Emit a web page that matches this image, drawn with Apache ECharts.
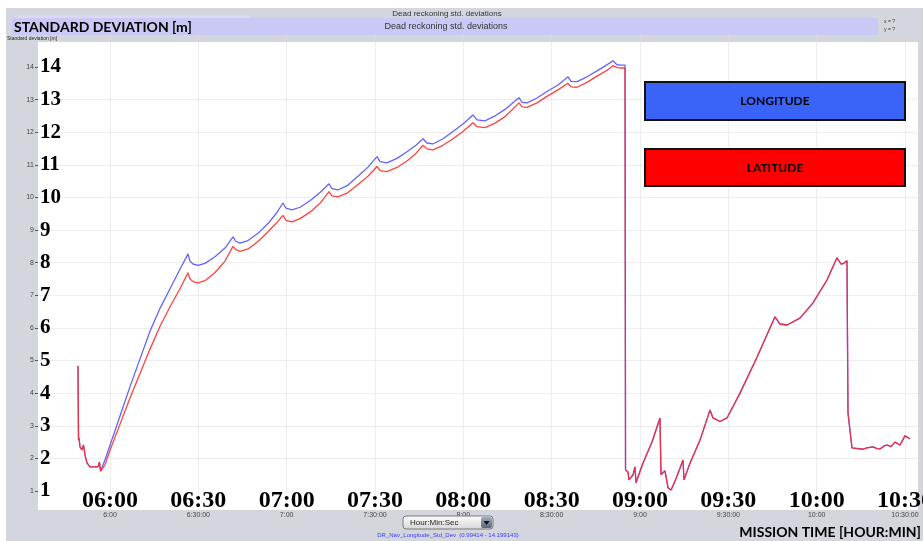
<!DOCTYPE html>
<html>
<head>
<meta charset="utf-8">
<script src="https://cdn.jsdelivr.net/npm/echarts@6/dist/echarts.min.js"></script>
<style>
  html, body { margin: 0; padding: 0; background: #fff; }
  #chart { width: 923px; height: 541px; }
</style>
</head>
<body>
<div id="chart"></div>
<script>
// mission time in minutes since midnight, climb phase (until the reset just before 09:00)
const timeA = [349.13, 349.30, 349.47, 349.81, 350.49, 351.00, 351.51, 352.19, 353.21, 355.92, 356.43, 356.77,
  358.30, 360.00, 363.40, 366.79, 370.19, 373.58, 376.98, 380.38, 383.77, 386.49,
  387.17, 388.19, 389.89, 392.26, 395.66, 399.06, 401.77,
  402.79, 404.15, 406.87, 410.26, 413.66, 416.37, 418.75,
  419.77, 421.81, 424.53, 427.92, 431.32, 434.37,
  435.39, 437.43, 440.83, 444.22, 447.62, 450.68,
  451.70, 454.07, 457.47, 460.87, 463.92, 466.30,
  467.66, 469.69, 473.09, 476.49, 479.88, 483.28,
  484.64, 487.36, 490.75, 494.15, 496.53, 498.91,
  499.93, 501.63, 505.02, 508.42, 512.16, 515.55,
  516.57, 518.61, 522.01, 525.41, 528.46, 530.84,
  532.20, 533.56, 534.92];
const lonA = [4.83, 2.56, 2.63, 2.35, 2.26, 2.41, 2.10, 1.86, 1.74, 1.74, 1.89, 1.61,
  1.95, 2.4, 3.3, 4.2, 5.05, 5.9, 6.6, 7.2, 7.8, 8.27,
  8.05, 7.96, 7.92, 7.98, 8.18, 8.45, 8.79,
  8.65, 8.6, 8.68, 8.9, 9.2, 9.5, 9.83,
  9.67, 9.62, 9.7, 9.9, 10.15, 10.42,
  10.27, 10.23, 10.38, 10.65, 10.93, 11.25,
  11.1, 11.06, 11.2, 11.4, 11.6, 11.8,
  11.67, 11.64, 11.8, 12.02, 12.25, 12.53,
  12.38, 12.35, 12.5, 12.7, 12.88, 13.06,
  12.92, 12.9, 13.05, 13.25, 13.45, 13.7,
  13.56, 13.55, 13.7, 13.88, 14.05, 14.19,
  14.07, 14.06, 14.06];
const latA = [4.83, 2.56, 2.63, 2.35, 2.26, 2.41, 2.10, 1.86, 1.74, 1.74, 1.89, 1.61,
  1.8, 2.25, 3.05, 3.85, 4.6, 5.35, 6.05, 6.65, 7.2, 7.69,
  7.5, 7.42, 7.38, 7.45, 7.7, 8.05, 8.5,
  8.4, 8.35, 8.42, 8.65, 8.95, 9.2, 9.45,
  9.3, 9.25, 9.35, 9.55, 9.82, 10.18,
  10.05, 10.02, 10.15, 10.4, 10.65, 10.95,
  10.82, 10.79, 10.92, 11.12, 11.35, 11.6,
  11.49, 11.46, 11.6, 11.8, 12.02, 12.29,
  12.17, 12.14, 12.28, 12.48, 12.68, 12.9,
  12.78, 12.76, 12.9, 13.1, 13.3, 13.5,
  13.39, 13.38, 13.53, 13.72, 13.88, 14.04,
  13.98, 13.97, 13.97];

// after the reset both deviations overlap
const timeB = [535.09, 535.92, 536.26, 537.62, 538.30, 538.64, 541.02, 544.08, 546.79,
  547.13, 548.49, 549.00, 549.51, 550.53, 551.89, 553.58, 554.60, 554.94, 556.98, 560.38, 563.77,
  564.79, 567.17, 569.55, 573.96, 579.74, 585.85,
  587.55, 589.92, 594.34, 598.75, 603.51, 606.90,
  608.26, 608.94, 610.30, 610.64, 612.00, 612.34,
  614.04, 615.74, 617.09, 619.13, 620.49, 621.51, 622.87, 623.89, 625.25, 626.60, 628.30, 630.00, 631.70];
const stdB = [1.64, 1.58, 1.34, 1.49, 1.74, 1.25, 1.86, 2.5, 3.24,
  1.5, 1.62, 1.66, 1.1, 1.03, 1.3, 1.7, 1.95, 1.34, 1.85, 2.56, 3.48,
  3.24, 3.13, 3.24, 4.0, 5.1, 6.34,
  6.12, 6.09, 6.3, 6.77, 7.47, 8.15,
  7.96, 7.97, 8.06, 3.39, 2.32, 2.26,
  2.3, 2.28, 2.32, 2.35, 2.3, 2.29, 2.38, 2.41, 2.36, 2.5, 2.41, 2.69, 2.6];

const yTicks = [1, 2, 3, 4, 5, 6, 7, 8, 9, 10, 11, 12, 13, 14];
const timeTicks = [360, 390, 420, 450, 480, 510, 540, 570, 600, 630];
const timeLabelsSmall = ['6:00', '6:30:00', '7:00', '7:30:00', '8:00', '8:30:00', '9:00', '9:30:00', '10:00', '10:30:00'];
const timeLabelsBig = ['06:00', '06:30', '07:00', '07:30', '08:00', '08:30', '09:00', '09:30', '10:00', '10:30'];

const pairs = (t, v) => t.map((x, i) => [x, v[i]]);
const lonData = pairs(timeA, lonA).concat(pairs(timeB, stdB));
const latData = pairs(timeA, latA).concat(pairs(timeB, stdB));

const timeFmt = labels => v => {
  const i = timeTicks.indexOf(v);
  return i < 0 ? '' : labels[i];
};
const yFmt = v => (yTicks.indexOf(v) < 0 ? '' : String(v));

const baseX = { type: 'value', position: 'bottom', min: 330, max: 634.42, interval: 30, offset: -13.6,
  axisLine: { show: false, onZero: false } };
const baseY = { type: 'value', position: 'left', min: 0, max: 15, interval: 1, offset: -16.33,
  axisLine: { show: false, onZero: false } };

const chart = echarts.init(document.getElementById('chart'));
chart.setOption({
  animation: false,
  backgroundColor: '#d3d6dd',
  grid: { left: 21.67, right: 5, top: 34.4, bottom: 17.4, containLabel: false, outerBoundsMode: 'none' },
  xAxis: [
    Object.assign({}, baseX, {
      axisTick: { show: false },
      axisLabel: { formatter: timeFmt(timeLabelsSmall), fontSize: 7, color: '#444', margin: 2, fontFamily: 'Liberation Sans',
        showMaxLabel: false },
      splitLine: { show: true, showMinLine: false, showMaxLine: false, lineStyle: { color: '#dcdcdc', type: 'dotted' } }
    }),
    Object.assign({}, baseX, {
      axisTick: { show: false },
      axisLabel: { inside: true, formatter: timeFmt(timeLabelsBig), fontSize: 24, fontWeight: 'bold', color: '#000',
        fontFamily: 'Liberation Serif', margin: 9, verticalAlign: 'middle', showMaxLabel: false },
      splitLine: { show: false }
    })
  ],
  yAxis: [
    Object.assign({}, baseY, {
      axisTick: { show: true, length: 3, customValues: yTicks, lineStyle: { color: '#555' } },
      axisLabel: { formatter: yFmt, fontSize: 7, color: '#444', margin: 4, fontFamily: 'Liberation Sans' },
      splitLine: { show: true, showMinLine: false, showMaxLine: false, lineStyle: { color: '#dcdcdc', type: 'dotted' } }
    }),
    Object.assign({}, baseY, {
      axisTick: { show: false },
      axisLabel: { inside: true, formatter: yFmt, fontSize: 21, fontWeight: 'bold', color: '#000',
        fontFamily: 'Liberation Serif', margin: 2 },
      splitLine: { show: false }
    })
  ],
  series: [
    {
      name: 'LONGITUDE', type: 'line', data: lonData, showSymbol: false, z: 3,
      lineStyle: { color: 'rgba(60,60,255,0.8)', width: 1.3 }
    },
    {
      name: 'LATITUDE', type: 'line', data: latData, showSymbol: false, z: 4,
      lineStyle: { color: 'rgba(255,40,40,0.88)', width: 1.3 }
    }
  ],
  graphic: [
    { type: 'rect', z: -10, shape: { x: 0, y: 0, width: 923, height: 8 }, style: { fill: '#fff' } },
    { type: 'rect', z: -10, shape: { x: 0, y: 0, width: 6, height: 541 }, style: { fill: '#fff' } },
    { type: 'rect', z: -10, shape: { x: 38, y: 42, width: 880, height: 468 }, style: { fill: '#fff' } },
    { type: 'rect', z: -9, shape: { x: 12, y: 18, width: 866, height: 17 }, style: { fill: '#c9c9f6' } },
    { type: 'rect', z: -9, shape: { x: 18, y: 15, width: 232, height: 3 }, style: { fill: '#d9d9f4' } },
    { type: 'text', z: 10, style: { text: 'Dead reckoning std. deviations', x: 447, y: 14, textAlign: 'center', textVerticalAlign: 'middle',
      font: '8px "Liberation Sans"', fill: '#333' } },
    { type: 'text', z: 10, style: { text: 'Dead reckoning std. deviations', x: 446, y: 26.5, textAlign: 'center', textVerticalAlign: 'middle',
      font: '9px "Liberation Sans"', fill: '#333' } },
    { type: 'text', z: 10, style: { text: 'STANDARD DEVIATION [m]', x: 14, y: 27, textAlign: 'left', textVerticalAlign: 'middle',
      font: 'bold 14px Lato', fill: '#000' } },
    { type: 'text', z: 10, style: { text: 'Standard deviation [m]', x: 7, y: 38.5, textAlign: 'left', textVerticalAlign: 'middle',
      font: '5px "Liberation Sans"', fill: '#222' } },
    { type: 'text', z: 10, style: { text: 'x = ?', x: 884, y: 22, textAlign: 'left', textVerticalAlign: 'middle',
      font: '5px "Liberation Sans"', fill: '#333' } },
    { type: 'text', z: 10, style: { text: 'y = ?', x: 884, y: 30, textAlign: 'left', textVerticalAlign: 'middle',
      font: '5px "Liberation Sans"', fill: '#333' } },
    { type: 'rect', z: 20, shape: { x: 645, y: 82, width: 260, height: 38 }, style: { fill: '#3a64f8', stroke: '#111', lineWidth: 2 } },
    { type: 'text', z: 21, style: { text: 'LONGITUDE', x: 775, y: 101.5, textAlign: 'center', textVerticalAlign: 'middle',
      font: 'bold 12px Lato', fill: '#000' } },
    { type: 'rect', z: 20, shape: { x: 645, y: 149, width: 260, height: 37 }, style: { fill: '#ff0000', stroke: '#111', lineWidth: 2 } },
    { type: 'text', z: 21, style: { text: 'LATITUDE', x: 775, y: 168, textAlign: 'center', textVerticalAlign: 'middle',
      font: 'bold 12px Lato', fill: '#000' } },
    { type: 'rect', z: 10, shape: { x: 403, y: 516, width: 90, height: 13, r: 3 },
      style: { fill: new echarts.graphic.LinearGradient(0, 0, 0, 1, [{ offset: 0, color: '#fdfdfd' }, { offset: 1, color: '#d6d6d6' }]),
        stroke: '#7a7a7a', lineWidth: 1 } },
    { type: 'rect', z: 11, shape: { x: 481, y: 517, width: 11, height: 11, r: 2 },
      style: { fill: new echarts.graphic.LinearGradient(0, 0, 0, 1, [{ offset: 0, color: '#a3adbd' }, { offset: 1, color: '#5b6578' }]) } },
    { type: 'polygon', z: 12, shape: { points: [[483.5, 521], [489.5, 521], [486.5, 525]] }, style: { fill: '#111' } },
    { type: 'text', z: 11, style: { text: 'Hour:Min:Sec', x: 410, y: 522.5, textAlign: 'left', textVerticalAlign: 'middle',
      font: '8px "Liberation Sans"', fill: '#222' } },
    { type: 'text', z: 10, style: { text: 'DR_Nav_Longitude_Std_Dev  (0.99414 - 14.199143)', x: 448, y: 535.5, textAlign: 'center', textVerticalAlign: 'middle',
      font: '6px "Liberation Sans"', fill: '#3a3aff' } },
    { type: 'text', z: 10, style: { text: 'MISSION TIME [HOUR:MIN]', x: 921, y: 532, textAlign: 'right', textVerticalAlign: 'middle',
      font: 'bold 14px Lato', fill: '#000' } }
  ]
});
</script>
</body>
</html>
